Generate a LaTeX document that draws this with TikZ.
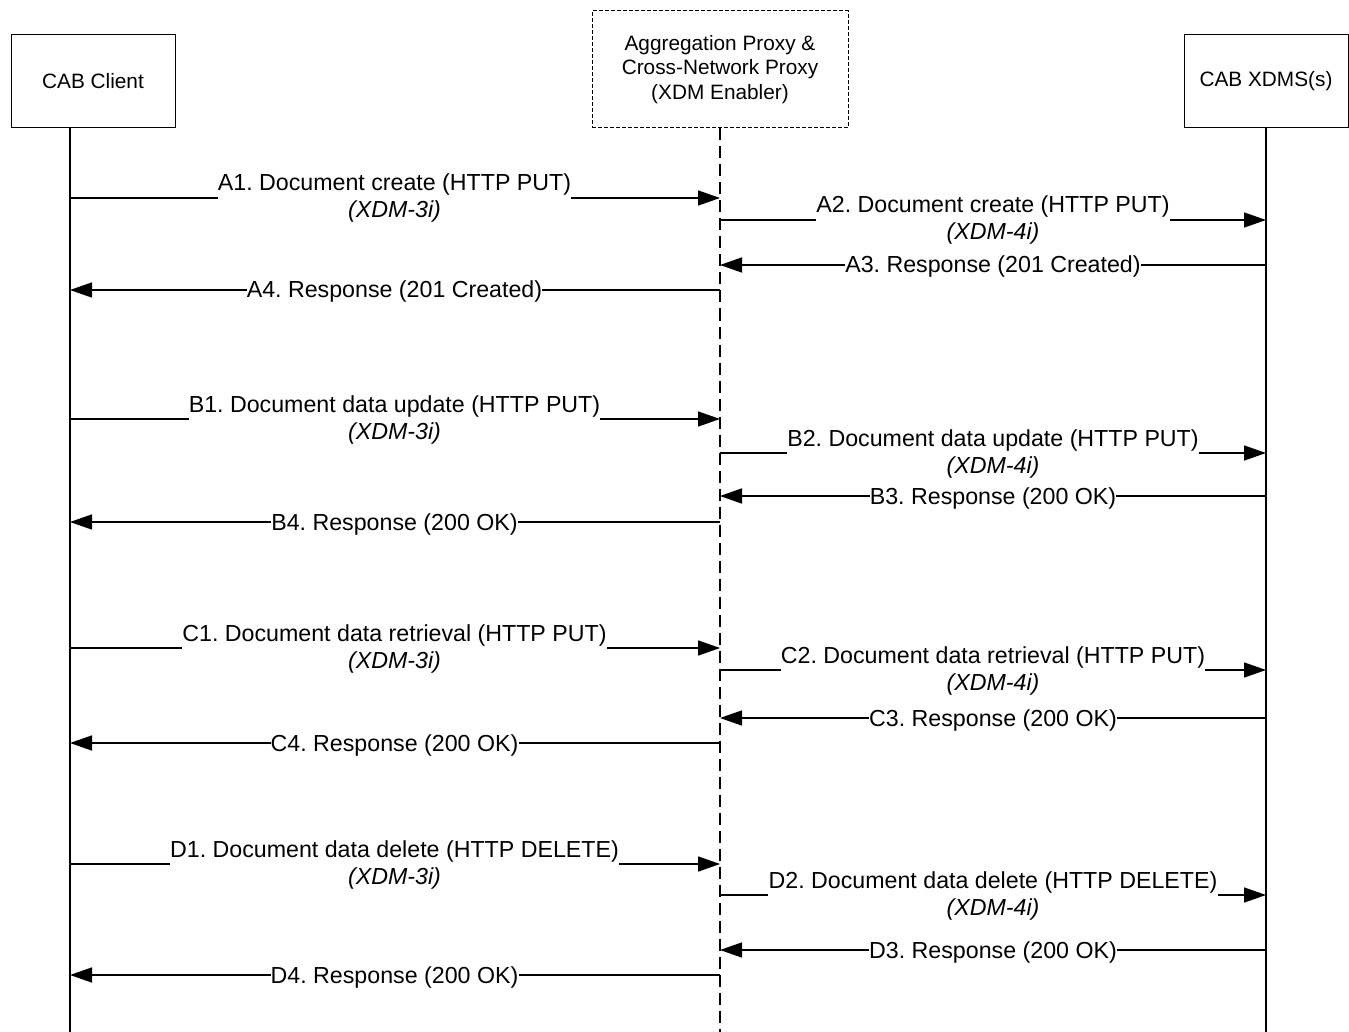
\documentclass[tikz,border=0pt]{standalone}
\usepackage{fontspec}
\setmainfont{Liberation Sans}
\usetikzlibrary{arrows.meta}
\frenchspacing
\begin{document}
\begin{tikzpicture}[x=1pt,y=-1pt,
  box/.style={draw,line width=1pt,inner sep=0pt,minimum width=164pt,minimum height=93pt,align=center,font=\fontsize{20.8}{24.5}\selectfont},
  pbox/.style={box,dash pattern=on 4pt off 2pt,minimum width=256pt,minimum height=117pt},
  life/.style={line width=1.5pt},
  plife/.style={line width=1.5pt,dash pattern=on 12pt off 6pt},
  msg/.style={inner sep=0pt,anchor=base,font=\fontsize{23.2}{28}\selectfont\frenchspacing},
  sub/.style={msg,font=\fontsize{23.2}{28}\selectfont\itshape},
  wire/.style={line width=1.5pt},
  arr/.style={line width=1.5pt,-{Triangle[length=22pt,width=15pt]}}
]
\useasboundingbox (0,0) rectangle (1349,1032);
% participants
\node[box] (client) at (93,81.5) {CAB Client};
\node[pbox] (proxy) at (720,69.5) {Aggregation Proxy \&\\Cross-Network Proxy\\(XDM Enabler)};
\node[box] (xdms) at (1266,81.5) {CAB XDMS(s)};
\coordinate (clT) at (70,128); \coordinate (clB) at (70,1032);
\coordinate (prB) at (720,1032);
\coordinate (xdB) at (1266,1032);
\draw[life] (clT) -- (clB);
\draw[plife] (proxy.south) -- (prB);
\draw[life] (xdms.south) -- (xdB);

% ---- A ----
\coordinate (a1s) at (70,198);  \coordinate (a1e) at (720,198);
\node[msg] (a1) at (394.5,191) {A1. Document create (HTTP PUT)};
\node[sub] (a1i) at (394.5,218) {(XDM-3i)};
\draw[wire] (a1s) -- (a1s -| a1.west);
\draw[arr] (a1e -| a1.east) -- (a1e);

\coordinate (a2s) at (720,220); \coordinate (a2e) at (1266,220);
\node[msg] (a2) at (993,213) {A2. Document create (HTTP PUT)};
\node[sub] (a2i) at (993,240) {(XDM-4i)};
\draw[wire] (a2s) -- (a2s -| a2.west);
\draw[arr] (a2e -| a2.east) -- (a2e);

\coordinate (a3s) at (1266,265); \coordinate (a3e) at (720,265);
\node[msg] (a3) at (993,273) {A3. Response (201 Created)};
\draw[wire] (a3s) -- (a3s -| a3.east);
\draw[arr] (a3e -| a3.west) -- (a3e);

\coordinate (a4s) at (720,290); \coordinate (a4e) at (70,290);
\node[msg] (a4) at (394.5,298) {A4. Response (201 Created)};
\draw[wire] (a4s) -- (a4s -| a4.east);
\draw[arr] (a4e -| a4.west) -- (a4e);

% ---- B ----
\coordinate (b1s) at (70,419);  \coordinate (b1e) at (720,419);
\node[msg] (b1) at (394.5,412) {B1. Document data update (HTTP PUT)};
\node[sub] (b1i) at (394.5,439) {(XDM-3i)};
\draw[wire] (b1s) -- (b1s -| b1.west);
\draw[arr] (b1e -| b1.east) -- (b1e);

\coordinate (b2s) at (720,453); \coordinate (b2e) at (1266,453);
\node[msg] (b2) at (993,446) {B2. Document data update (HTTP PUT)};
\node[sub] (b2i) at (993,473) {(XDM-4i)};
\draw[wire] (b2s) -- (b2s -| b2.west);
\draw[arr] (b2e -| b2.east) -- (b2e);

\coordinate (b3s) at (1266,496); \coordinate (b3e) at (720,496);
\node[msg] (b3) at (993,504) {B3. Response (200 OK)};
\draw[wire] (b3s) -- (b3s -| b3.east);
\draw[arr] (b3e -| b3.west) -- (b3e);

\coordinate (b4s) at (720,522); \coordinate (b4e) at (70,522);
\node[msg] (b4) at (394.5,530) {B4. Response (200 OK)};
\draw[wire] (b4s) -- (b4s -| b4.east);
\draw[arr] (b4e -| b4.west) -- (b4e);

% ---- C ----
\coordinate (c1s) at (70,648);  \coordinate (c1e) at (720,648);
\node[msg] (c1) at (394.5,641) {C1. Document data retrieval (HTTP PUT)};
\node[sub] (c1i) at (394.5,668) {(XDM-3i)};
\draw[wire] (c1s) -- (c1s -| c1.west);
\draw[arr] (c1e -| c1.east) -- (c1e);

\coordinate (c2s) at (720,670); \coordinate (c2e) at (1266,670);
\node[msg] (c2) at (993,663) {C2. Document data retrieval (HTTP PUT)};
\node[sub] (c2i) at (993,690) {(XDM-4i)};
\draw[wire] (c2s) -- (c2s -| c2.west);
\draw[arr] (c2e -| c2.east) -- (c2e);

\coordinate (c3s) at (1266,718); \coordinate (c3e) at (720,718);
\node[msg] (c3) at (993,726) {C3. Response (200 OK)};
\draw[wire] (c3s) -- (c3s -| c3.east);
\draw[arr] (c3e -| c3.west) -- (c3e);

\coordinate (c4s) at (720,743); \coordinate (c4e) at (70,743);
\node[msg] (c4) at (394.5,751) {C4. Response (200 OK)};
\draw[wire] (c4s) -- (c4s -| c4.east);
\draw[arr] (c4e -| c4.west) -- (c4e);

% ---- D ----
\coordinate (d1s) at (70,864);  \coordinate (d1e) at (720,864);
\node[msg] (d1) at (394.5,857) {D1. Document data delete (HTTP DELETE)};
\node[sub] (d1i) at (394.5,884) {(XDM-3i)};
\draw[wire] (d1s) -- (d1s -| d1.west);
\draw[arr] (d1e -| d1.east) -- (d1e);

\coordinate (d2s) at (720,895); \coordinate (d2e) at (1266,895);
\node[msg] (d2) at (993,888) {D2. Document data delete (HTTP DELETE)};
\node[sub] (d2i) at (993,915) {(XDM-4i)};
\draw[wire] (d2s) -- (d2s -| d2.west);
\draw[arr] (d2e -| d2.east) -- (d2e);

\coordinate (d3s) at (1266,950); \coordinate (d3e) at (720,950);
\node[msg] (d3) at (993,958) {D3. Response (200 OK)};
\draw[wire] (d3s) -- (d3s -| d3.east);
\draw[arr] (d3e -| d3.west) -- (d3e);

\coordinate (d4s) at (720,975); \coordinate (d4e) at (70,975);
\node[msg] (d4) at (394.5,983) {D4. Response (200 OK)};
\draw[wire] (d4s) -- (d4s -| d4.east);
\draw[arr] (d4e -| d4.west) -- (d4e);
\end{tikzpicture}
\end{document}
